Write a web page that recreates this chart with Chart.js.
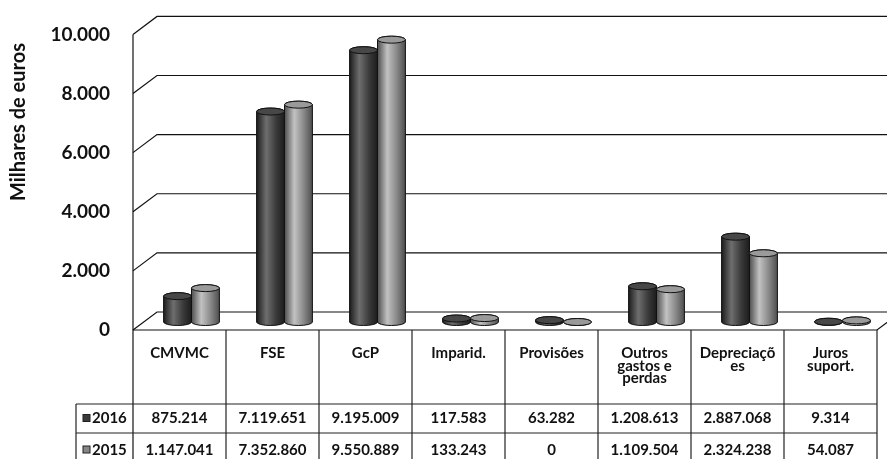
<!DOCTYPE html>
<html>
<head>
<meta charset="utf-8">
<script src="https://cdn.jsdelivr.net/npm/chart.js@4.4.0/dist/chart.umd.min.js"></script>
<style>
  html, body { margin: 0; padding: 0; background: #fff; }
  #wrap { width: 887px; height: 459px; }
</style>
</head>
<body>
<div id="wrap"><canvas id="gastos"></canvas></div>
<script>
const categorias = ['CMVMC', 'FSE', 'GcP', 'Imparid.', 'Provisões', 'Outros gastos e perdas', 'Depreciações', 'Juros suport.'];
// como aparecem partidas na tabela
const cabecalhos = [['CMVMC'], ['FSE'], ['GcP'], ['Imparid.'], ['Provisões'], ['Outros', 'gastos e', 'perdas'], ['Depreciaçõ', 'es'], ['Juros', 'suport.']];
const anos = ['2016', '2015'];
const valores2016 = [875214, 7119651, 9195009, 117583, 63282, 1208613, 2887068, 9314];
const valores2015 = [1147041, 7352860, 9550889, 133243, 0, 1109504, 2324238, 54087];
const ticksY = [0, 2000, 4000, 6000, 8000, 10000];

const PROF_X = 24, PROF_Y = 18;   // profundidade da parede
const DX = 12, DY = -8;           // cilindros a meio da profundidade
const cores = [
  { edge: '#1c1c1c', mid: '#3a3a3a', light: '#6e6e6e', top: '#474747' },
  { edge: '#4e4e4e', mid: '#878787', light: '#c2c2c2', top: '#9a9a9a' }
];

function fmt(n) {
  return String(Math.round(n)).replace(/\B(?=(\d{3})+(?!\d))/g, '.');
}

function cilindro(ctx, cx, topo, base, rx, c) {
  const ry = 3.5;
  const g = ctx.createLinearGradient(cx - rx, 0, cx + rx, 0);
  g.addColorStop(0, c.edge);
  g.addColorStop(0.35, c.light);
  g.addColorStop(0.7, c.mid);
  g.addColorStop(1, c.edge);
  ctx.beginPath();
  ctx.moveTo(cx - rx, topo);
  ctx.lineTo(cx - rx, base);
  ctx.ellipse(cx, base, rx, ry, 0, Math.PI, 0, true);
  ctx.lineTo(cx + rx, topo);
  ctx.ellipse(cx, topo, rx, ry, 0, 0, Math.PI, true);
  ctx.closePath();
  ctx.fillStyle = g;
  ctx.fill();
  ctx.strokeStyle = '#111';
  ctx.lineWidth = 1;
  ctx.stroke();
  ctx.beginPath();
  ctx.ellipse(cx, topo, rx, ry, 0, 0, Math.PI * 2);
  ctx.fillStyle = c.top;
  ctx.fill();
  ctx.stroke();
}

const parede3d = {
  id: 'parede3d',
  beforeDatasetsDraw(chart) {
    const { ctx, chartArea: a, scales: { y } } = chart;
    ctx.save();
    ctx.strokeStyle = '#111';
    ctx.lineWidth = 1.2;
    ticksY.forEach(v => {
      const yy = y.getPixelForValue(v);
      ctx.beginPath();
      ctx.moveTo(a.left, yy);
      ctx.lineTo(a.left + PROF_X, yy - PROF_Y);
      ctx.lineTo(a.right + PROF_X, yy - PROF_Y);
      ctx.stroke();
    });
    ctx.beginPath();
    ctx.moveTo(a.left, a.top);
    ctx.lineTo(a.left, chart.height);
    ctx.stroke();
    ctx.beginPath();
    ctx.moveTo(a.left, a.bottom);
    ctx.lineTo(a.right, a.bottom);
    ctx.lineTo(a.right + PROF_X, a.bottom - PROF_Y);
    ctx.stroke();
    ctx.restore();
  },
  afterDatasetsDraw(chart) {
    const ctx = chart.ctx;
    ctx.save();
    chart.data.datasets.forEach((ds, di) => {
      chart.getDatasetMeta(di).data.forEach(bar => {
        const p = bar.getProps(['x', 'y', 'base', 'width'], true);
        cilindro(ctx, p.x + DX, p.y + DY, p.base + DY, p.width / 2, cores[di]);
      });
    });
    ctx.restore();
  }
};

const tabela = {
  id: 'tabela',
  afterDraw(chart) {
    const { ctx, chartArea: a, scales: { x } } = chart;
    const larg = (a.right - a.left) / categorias.length;
    const yL1 = a.bottom + 74, yL2 = yL1 + 29, fim = chart.height;
    ctx.save();
    ctx.strokeStyle = '#222';
    ctx.lineWidth = 1.2;
    for (let i = 1; i <= categorias.length; i++) {
      const xx = a.left + i * larg;
      ctx.beginPath(); ctx.moveTo(xx, a.bottom); ctx.lineTo(xx, fim); ctx.stroke();
    }
    ctx.beginPath(); ctx.moveTo(76, yL1); ctx.lineTo(76, fim); ctx.stroke();
    [yL1, yL2].forEach(yy => {
      ctx.beginPath(); ctx.moveTo(76, yy); ctx.lineTo(a.right, yy); ctx.stroke();
    });

    ctx.fillStyle = '#111';
    ctx.textAlign = 'center';
    ctx.textBaseline = 'middle';
    ctx.font = 'bold 15px Lato';
    cabecalhos.forEach((linhas, i) => {
      const cx = x.getPixelForValue(i);
      linhas.forEach((t, k) => ctx.fillText(t, cx, a.bottom + 23 + k * 12.8));
    });
    const linhasY = [yL1 + 14.5, yL2 + 17];
    [valores2016, valores2015].forEach((vals, r) => {
      vals.forEach((v, i) => ctx.fillText(fmt(v), x.getPixelForValue(i), linhasY[r]));
      ctx.textAlign = 'left';
      ctx.fillText(anos[r], 92, linhasY[r]);
      ctx.fillStyle = cores[r].mid;
      ctx.fillRect(83, linhasY[r] - 4, 7, 7);
      ctx.strokeStyle = '#222';
      ctx.lineWidth = 1;
      ctx.strokeRect(83, linhasY[r] - 4, 7, 7);
      ctx.fillStyle = '#111';
      ctx.textAlign = 'center';
    });

    // título do eixo
    ctx.translate(19, 122);
    ctx.rotate(-Math.PI / 2);
    ctx.font = 'bold 20px Lato';
    ctx.fillText('Milhares de euros', 0, 0);
    ctx.restore();
  }
};

new Chart(document.getElementById('gastos'), {
  type: 'bar',
  data: {
    labels: categorias,
    datasets: [
      { label: anos[0], data: valores2016.map(v => v / 1000), backgroundColor: 'rgba(0,0,0,0)', borderWidth: 0 },
      { label: anos[1], data: valores2015.map(v => v / 1000), backgroundColor: 'rgba(0,0,0,0)', borderWidth: 0 }
    ]
  },
  options: {
    responsive: true,
    maintainAspectRatio: false,
    animation: false,
    categoryPercentage: 0.6,
    barPercentage: 1,
    layout: { padding: { left: 0, right: 10, top: 33, bottom: 129 } },
    plugins: { legend: { display: false }, tooltip: { enabled: false } },
    scales: {
      x: { display: false },
      y: {
        min: 0,
        max: 10000,
        afterFit(s) { s.width = 133; },
        afterBuildTicks(s) { s.ticks = ticksY.map(v => ({ value: v })); },
        ticks: {
          callback: v => fmt(v),
          font: { family: 'Lato', size: 19, weight: 'bold' },
          color: '#111',
          padding: 23
        },
        grid: { display: false, drawTicks: false },
        border: { display: false }
      }
    }
  },
  plugins: [parede3d, tabela]
});
</script>
</body>
</html>
